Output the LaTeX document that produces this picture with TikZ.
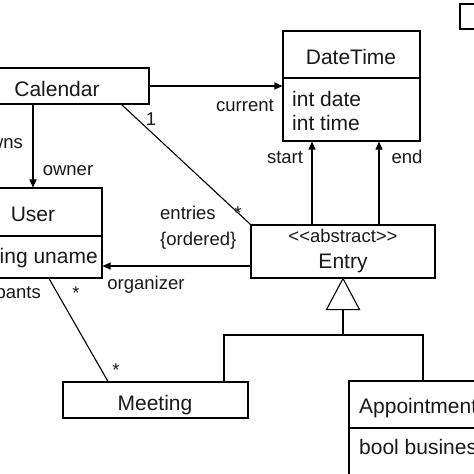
\documentclass[tikz,border=0pt]{standalone}
\usepackage{fontspec}
\setmainfont{Liberation Sans}
\usetikzlibrary{arrows.meta}
\begin{document}
\begin{tikzpicture}[x=1pt,y=-1pt,
  box/.style={draw, line width=1.1pt, inner sep=0pt, rectangle},
  nm/.style={font=\fontsize{21}{25}\selectfont, inner sep=0pt, anchor=base, text=black!90},
  lbl/.style={font=\fontsize{18.5}{22}\selectfont, inner sep=0pt, anchor=base, text=black!90},
  arr/.style={line width=1.1pt, -{Triangle[length=8pt,width=7pt]}},
  ln/.style={line width=1.1pt}]
\useasboundingbox (0,0) rectangle (474,474);
\clip (0,0) rectangle (474,474);
\fill[white] (0,0) rectangle (474,474);
% boxes
\node[box, minimum width=184pt, minimum height=36pt] (cal) at (57,86) {};
\node[box, minimum width=137pt, minimum height=110pt] (dt) at (351.5,86) {};
\node[box, minimum width=138pt, minimum height=90pt] (user) at (33,233) {};
\node[box, minimum width=184pt, minimum height=53pt] (entry) at (343,251.5) {};
\node[box, minimum width=185pt, minimum height=36pt] (meet) at (155.5,400) {};
\node[box, minimum width=181pt, minimum height=119pt] (appt) at (439.5,440.5) {};
\node[box, minimum width=40pt, minimum height=25pt] (other) at (480,16.5) {};
% dividers
\draw[ln] (dt.west |- 0,78) -- (dt.east |- 0,78);
\draw[ln] (user.west |- 0,236) -- (user.east |- 0,236);
\draw[ln] (appt.west |- 0,428) -- (appt.east |- 0,428);
% class texts
\node[nm] (calname) at (57,96) {Calendar};
\node[nm] (dtname) at (351,64) {DateTime};
\node[nm, anchor=base west] (dtdate) at (292,106) {int date};
\node[nm, anchor=base west] (dttime) at (292,130) {int time};
\node[nm] (username) at (33,221) {User};
\node[nm, anchor=base east] (useratt) at (98,263) {string uname};
\node[lbl] (entryst) at (343,242) {{<}{<}abstract{>}{>}};
\node[nm] (entryname) at (343,268) {Entry};
\node[nm] (meetname) at (155,410) {Meeting};
\node[nm, anchor=base west] (apptname) at (359,413) {Appointment};
\node[nm, anchor=base west] (apptatt) at (359,454) {bool business};
% connectors
\draw[arr] (cal.east) -- (dt.west);
\draw[arr] (cal.south -| user.north) -- (user.north);
\draw[ln] ([xshift=-28pt]cal.south east) -- (entry.north west);
\draw[arr] (entry.north -| 312,0) -- (dt.south -| 312,0);
\draw[arr] (entry.north -| 379,0) -- (dt.south -| 379,0);
\draw[arr] (entry.west |- 0,266) -- (user.east |- 0,266);
\draw[ln] (user.south -| 49,0) -- (meet.north -| 108,0);
% generalization
\draw[ln, line join=miter] (entry.south) -- ++(16.5,31) -- ++(-33,0) -- cycle;
\coordinate (tb) at ([yshift=-31pt]entry.south);
\coordinate (junc) at (entry.south |- 0,335);
\draw[ln] (tb) -- (junc);
\draw[ln] (meet.north -| 224,0) -- (224,335) -- (423,335) -- (appt.north -| 423,0);
% labels
\node[lbl] (lcur) at (245,111) {current};
\node[lbl] (lone) at (151,125) {1};
\node[lbl, anchor=base east] (lowns) at (23,148) {owns};
\node[lbl] (lowner) at (68,175) {owner};
\node[lbl, anchor=base west] (lentries) at (160,219) {entries};
\node[lbl] (lstar1) at (238,219) {*};
\node[lbl, anchor=base west] (lord) at (160,245) {\{ordered\}};
\node[lbl] (lstart) at (285,163) {start};
\node[lbl] (lend) at (407,163) {end};
\node[lbl] (lorg) at (146,289) {organizer};
\node[lbl, anchor=base east] (lpart) at (41,298) {participants};
\node[lbl] (lstar2) at (76,299) {*};
\node[lbl] (lstar3) at (116,376) {*};
\end{tikzpicture}
\end{document}
